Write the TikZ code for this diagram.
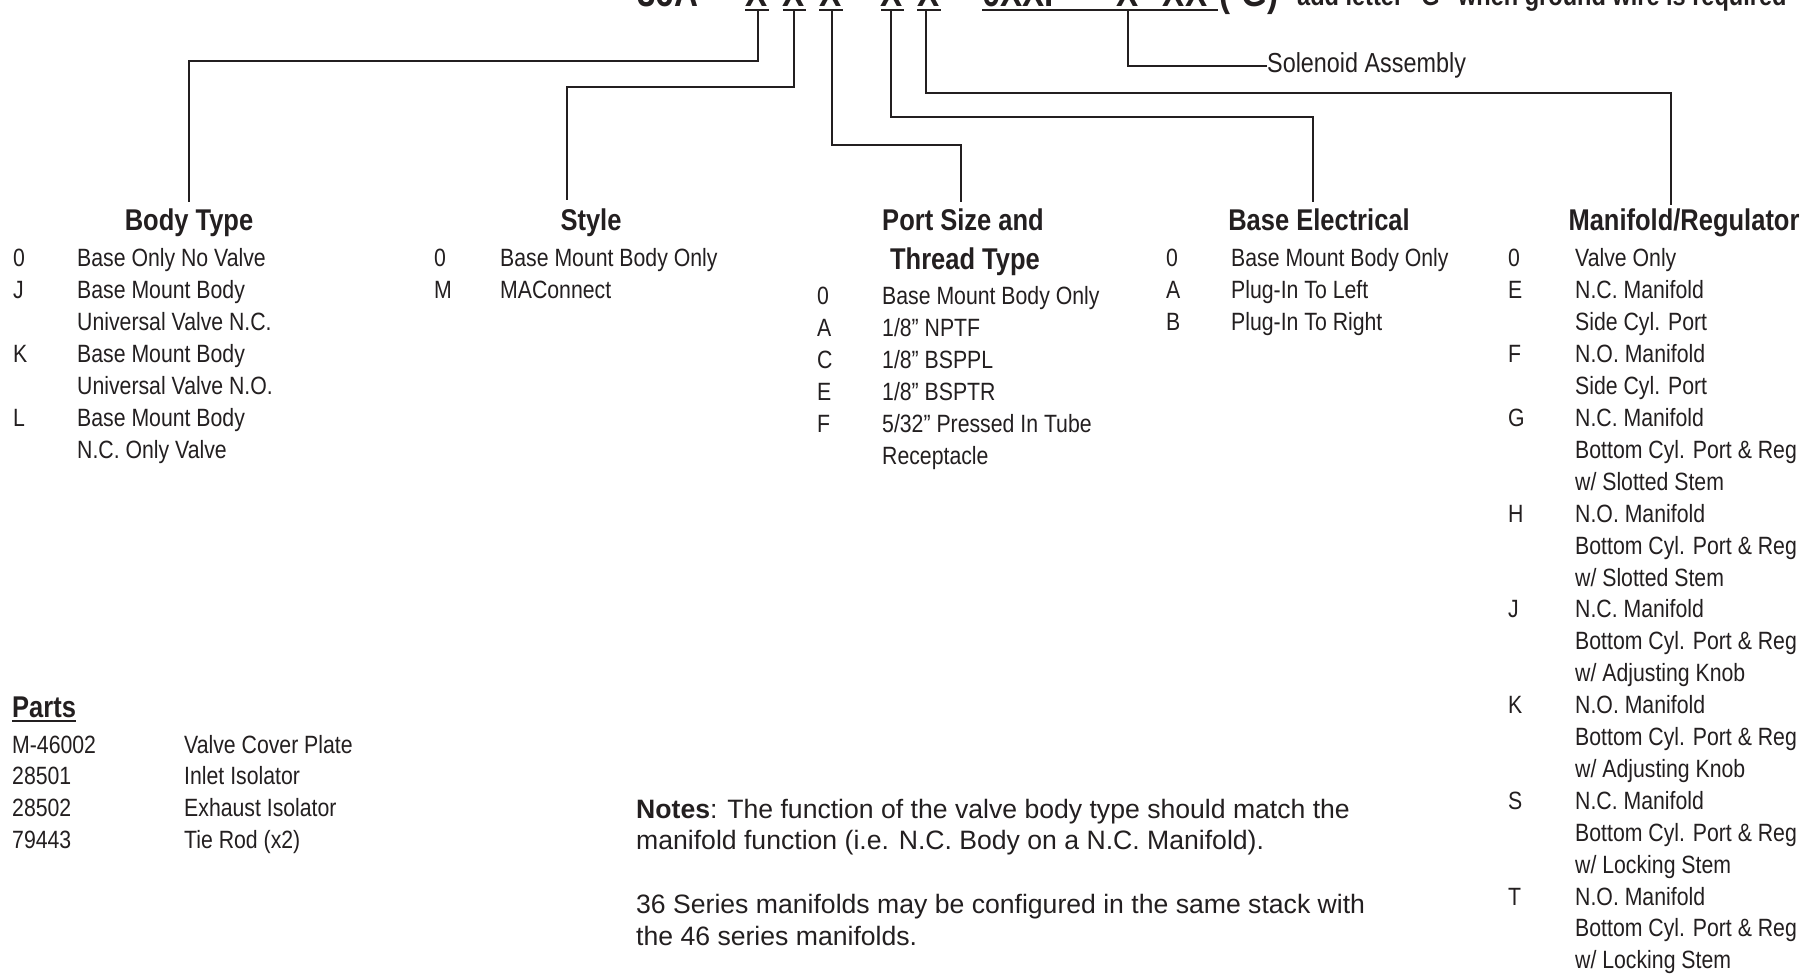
\documentclass[tikz,border=0pt]{standalone}
\usepackage{fontspec}
\setmainfont{Liberation Sans}
\newfontfamily\cnd[FakeStretch=0.85]{Liberation Sans}
\definecolor{ink}{HTML}{231F20}
\begin{document}
\begin{tikzpicture}[x=1pt,y=-1pt,
  conn/.style={draw=ink, line width=2.6pt},
  bar/.style={draw=ink, line width=2.6pt},
  big/.style={font=\cnd\bfseries\fontsize{39}{44}\selectfont, text=ink, inner sep=0pt, anchor=base},
  bigw/.style={big, anchor=base west},
  addtxt/.style={font=\cnd\bfseries\fontsize{27.7}{32}\selectfont, text=ink, inner sep=0pt, anchor=base west},
  head/.style={font=\cnd\bfseries\fontsize{30}{34}\selectfont, text=ink, inner sep=0pt, anchor=base},
  item/.style={font=\cnd\fontsize{25}{30}\selectfont, text=ink, inner sep=0pt, anchor=base west},
  sol/.style={font=\cnd\fontsize{27.5}{32}\selectfont, text=ink, inner sep=0pt, anchor=base west},
  note/.style={font=\fontsize{26.6}{31.5}\selectfont, text=ink, inner sep=0pt, anchor=base west}]
\useasboundingbox (0,0) rectangle (1817,976);
\fill[white] (0,0) rectangle (1817,976);
\clip (0,0) rectangle (1817,976);

% ---- top part number (clipped at the top edge) ----
\node[bigw] (t36) at (637,7) {36A};
\node[big] (x1) at (757,7) {X};
\node[big] (x2) at (794,7) {X};
\node[big] (x3) at (831,7) {X};
\node[big] (x4) at (892,7) {X};
\node[big] (x5) at (929,7) {X};
\node[bigw] (t0xxp) at (982,7) {0XXP};
\node[big] (x6) at (1128,7) {X};
\node[big] (x7) at (1185,7) {XX};
\node[bigw] (tg) at (1219,7) {(\phantom{-}G)};
\node[addtxt] (tadd) at (1297,6) {add letter “G” when ground wire is required};

% underlines
\draw[bar] (745,10) -- (769,10);
\draw[bar] (783,10) -- (806,10);
\draw[bar] (819,10) -- (843,10);
\draw[bar] (881,10) -- (904,10);
\draw[bar] (917,10) -- (941,10);
\draw[bar] (982,10) -- (1218,10);

% connector start points
\coordinate (c1) at (758,10);
\coordinate (c2) at (794,10);
\coordinate (c3) at (832,10);
\coordinate (c4) at (891,10);
\coordinate (c5) at (926,10);
\coordinate (c6) at (1128,10);

% connector end points
\coordinate (eBody) at (189,202);
\coordinate (eStyle) at (567,200);
\coordinate (ePort) at (961,202);
\coordinate (eBase) at (1313,202);
\coordinate (eMan) at (1671,205);

% ---- headings ----
\node[head] (hBody) at (189,231) {Body Type};
\node[head] (hStyle) at (591,231) {Style};
\node[head] (hPort) at (963,231) {Port Size and};
\node[head] (hPort2) at (965,270) {Thread Type};
\node[head] (hBase) at (1319,231) {Base Electrical};
\node[head] (hMan) at (1684,231) {Manifold/Regulator};

% ---- connectors ----
\draw[conn] (c1) -- ++(0,51) -| (eBody);
\draw[conn] (c2) -- ++(0,77) -| (eStyle);
\draw[conn] (c3) -- ++(0,135) -| (ePort);
\draw[conn] (c4) -- ++(0,107) -| (eBase);
\draw[conn] (c5) -- ++(0,83) -| (eMan);
\node[sol] (sol) at (1267,73) {Solenoid Assembly};
\draw[conn] (c6) |- (sol.west);

% ---- Body Type ----
\foreach \c/\d [count=\i from 0] in {0/{Base Only No Valve}, J/{Base Mount Body}, /{Universal Valve N.C.}, K/{Base Mount Body}, /{Universal Valve N.O.}, L/{Base Mount Body}, /{N.C. Only Valve}}{
  \node[item, name=bc\i] at (13,267+31.9*\i) {\c};
  \node[item, name=bd\i] at (77,267+31.9*\i) {\d};
}
% ---- Style ----
\foreach \c/\d [count=\i from 0] in {0/{Base Mount Body Only}, M/{MAConnect}}{
  \node[item, name=sc\i] at (434,267+31.9*\i) {\c};
  \node[item, name=sd\i] at (500,267+31.9*\i) {\d};
}
% ---- Port Size ----
\foreach \c/\d [count=\i from 0] in {0/{Base Mount Body Only}, A/{1/8” NPTF}, C/{1/8” BSPPL}, E/{1/8” BSPTR}, F/{5/32” Pressed In Tube}, /{Receptacle}}{
  \node[item, name=pc\i] at (817,304+32*\i) {\c};
  \node[item, name=pd\i] at (882,304+32*\i) {\d};
}
% ---- Base Electrical ----
\foreach \c/\d [count=\i from 0] in {0/{Base Mount Body Only}, A/{Plug-In To Left}, B/{Plug-In To Right}}{
  \node[item, name=ec\i] at (1166,267+31.9*\i) {\c};
  \node[item, name=ed\i] at (1231,267+31.9*\i) {\d};
}
% ---- Manifold/Regulator ----
\foreach \c/\d [count=\i from 0] in {0/{Valve Only}, E/{N.C. Manifold}, /{Side Cyl. Port}, F/{N.O. Manifold}, /{Side Cyl. Port},
  G/{N.C. Manifold}, /{Bottom Cyl. Port \& Reg}, /{w/ Slotted Stem},
  H/{N.O. Manifold}, /{Bottom Cyl. Port \& Reg}, /{w/ Slotted Stem},
  J/{N.C. Manifold}, /{Bottom Cyl. Port \& Reg}, /{w/ Adjusting Knob},
  K/{N.O. Manifold}, /{Bottom Cyl. Port \& Reg}, /{w/ Adjusting Knob},
  S/{N.C. Manifold}, /{Bottom Cyl. Port \& Reg}, /{w/ Locking Stem},
  T/{N.O. Manifold}, /{Bottom Cyl. Port \& Reg}, /{w/ Locking Stem}}{
  \node[item, name=mc\i] at (1508,267+31.9*\i) {\c};
  \node[item, name=md\i] at (1575,267+31.9*\i) {\d};
}

% ---- Parts ----
\node[head, anchor=base west] (parts) at (12,717) {Parts};
\draw[draw=ink, line width=2pt] ([yshift=-4pt]parts.base west) -- ([yshift=-4pt]parts.base east);
\foreach \c/\d [count=\i from 0] in {M-46002/{Valve Cover Plate}, 28501/{Inlet Isolator}, 28502/{Exhaust Isolator}, 79443/{Tie Rod (x2)}}{
  \node[item, name=rc\i] at (12,753+31.7*\i) {\c};
  \node[item, name=rd\i] at (184,753+31.7*\i) {\d};
}

% ---- Notes ----
\node[note] (n1) at (636,818) {\textbf{Notes}: The function of the valve body type should match the};
\node[note] (n2) at (636,849) {manifold function (i.e. N.C. Body on a N.C. Manifold).};
\node[note] (n3) at (636,913) {36 Series manifolds may be configured in the same stack with};
\node[note] (n4) at (636,945) {the 46 series manifolds.};
\end{tikzpicture}
\end{document}
